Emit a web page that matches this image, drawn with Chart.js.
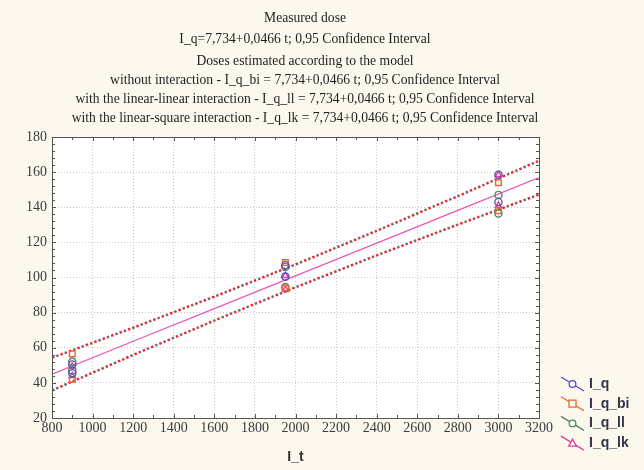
<!DOCTYPE html>
<html>
<head>
<meta charset="utf-8">
<script src="https://cdn.jsdelivr.net/npm/chart.js@4.4.0/dist/chart.umd.min.js"></script>
<style>
  html, body { margin: 0; padding: 0; background: #fcf8ee; }
  #wrap { width: 644px; height: 470px; }
</style>
</head>
<body>
<div id="wrap"><canvas id="doseChart" width="644" height="470"></canvas></div>
<script>
// measured / estimated doses
const tValues = [900, 900, 1950, 1950, 3000, 3000];
const iq = [50.5, 45.5, 107, 100.5, 158.5, 143];
const iqBi = [56.5, 42, 108.5, 94, 154, 138];
const iqLl = [52, 47, 106, 94.5, 147, 136.5];
const iqLk = [49.5, 44, 101, 93, 158.5, 141];

// fitted line and 0,95 confidence band
const bandT = [800, 1200, 1600, 2000, 2400, 2800, 3200];
const fitLine = [45.0, 63.7, 82.3, 100.9, 119.6, 138.2, 156.9];
const upperBand = [54.3, 71.4, 89.1, 107.4, 126.6, 146.3, 166.5];
const lowerBand = [35.7, 55.9, 75.5, 94.4, 112.6, 130.1, 147.2];

const xTicks = [800, 1000, 1200, 1400, 1600, 1800, 2000, 2200, 2400, 2600, 2800, 3000, 3200];
const yTicks = [20, 40, 60, 80, 100, 120, 140, 160, 180];

const titleLines = [
  "Measured dose",
  "I_q=7,734+0,0466 t; 0,95 Confidence Interval",
  "Doses estimated according to the model",
  "without interaction - I_q_bi = 7,734+0,0466 t; 0,95 Confidence Interval",
  "with the linear-linear interaction - I_q_ll = 7,734+0,0466 t; 0,95 Confidence Interval",
  "with the linear-square interaction - I_q_lk = 7,734+0,0466 t; 0,95 Confidence Interval"
];
const titleY = [18, 39, 61, 80, 99, 118];

const seriesNames = ["I_q", "I_q_bi", "I_q_ll", "I_q_lk"];
const seriesColors = ["#5b4fbf", "#f2612a", "#4a8a5e", "#e0409a"];
const seriesMarkers = ["circle", "rect", "circle", "triangle"];
const seriesValues = [iq, iqBi, iqLl, iqLk];

const toPoints = (xs, ys) => xs.map((x, i) => ({ x: x, y: ys[i] }));

const scatterSets = seriesNames.map((name, i) => ({
  label: name,
  data: toPoints(tValues, seriesValues[i]),
  showLine: false,
  pointStyle: seriesMarkers[i],
  pointRadius: seriesMarkers[i] === "rect" ? 4 : 3.6,
  pointBorderColor: seriesColors[i],
  pointBackgroundColor: "rgba(255,255,255,0)",
  pointBorderWidth: 1.4,
  order: 0
}));

const bandLine = (data, color, offset) => ({
  label: "band",
  data: toPoints(bandT, data),
  showLine: true,
  pointRadius: 0,
  borderColor: color,
  borderWidth: 2.5,
  borderDash: [2.5, 6.5],
  borderDashOffset: offset,
  order: 2
});

const lineSets = [
  bandLine(upperBand, "#86665e", 4.5),
  bandLine(upperBand, "#f0283c", 0),
  bandLine(lowerBand, "#86665e", 4.5),
  bandLine(lowerBand, "#f0283c", 0),
  {
    label: "fit",
    data: toPoints(bandT, fitLine),
    showLine: true,
    pointRadius: 0,
    borderColor: "#ee58b4",
    borderWidth: 1.3,
    order: 1
  }
];

const backgroundPlugin = {
  id: "background",
  beforeDraw(chart) {
    const { ctx, chartArea } = chart;
    ctx.save();
    ctx.fillStyle = "#fcf8ee";
    ctx.fillRect(0, 0, chart.width, chart.height);
    ctx.fillStyle = "#ffffff";
    ctx.fillRect(chartArea.left, chartArea.top, chartArea.right - chartArea.left, chartArea.bottom - chartArea.top);
    ctx.restore();
  }
};

const framePlugin = {
  id: "frame",
  afterDraw(chart) {
    const { ctx, chartArea } = chart;
    const xs = chart.scales.x;
    const ys = chart.scales.y;
    ctx.save();

    // titles
    ctx.fillStyle = "#1e1e1e";
    ctx.font = "13.6px 'Liberation Serif'";
    ctx.textAlign = "center";
    ctx.textBaseline = "middle";
    titleLines.forEach((line, i) => ctx.fillText(line, 305, titleY[i]));

    // box + inner minor ticks
    ctx.strokeStyle = "#555";
    ctx.lineWidth = 1;
    ctx.strokeRect(chartArea.left + 0.5, chartArea.top + 0.5, chartArea.right - chartArea.left, chartArea.bottom - chartArea.top);
    ctx.beginPath();
    for (let v = 800; v <= 3200; v += 100) {
      const px = Math.round(xs.getPixelForValue(v)) + 0.5;
      const len = v % 200 === 0 ? 4 : 3;
      ctx.moveTo(px, chartArea.top); ctx.lineTo(px, chartArea.top + len);
      ctx.moveTo(px, chartArea.bottom); ctx.lineTo(px, chartArea.bottom - len);
    }
    for (let v = 20; v <= 180; v += 4) {
      const py = Math.round(ys.getPixelForValue(v)) + 0.5;
      const len = v % 20 === 0 ? 4 : 3;
      ctx.moveTo(chartArea.left, py); ctx.lineTo(chartArea.left + len, py);
      ctx.moveTo(chartArea.right, py); ctx.lineTo(chartArea.right - len, py);
    }
    ctx.stroke();

    // legend
    ctx.font = "bold 14px 'Liberation Sans'";
    ctx.textAlign = "left";
    seriesNames.forEach((name, i) => {
      const yc = 384 + i * 19.7;
      ctx.strokeStyle = seriesColors[i];
      ctx.lineWidth = 1.3;
      ctx.beginPath();
      ctx.moveTo(561, yc - 7);
      ctx.lineTo(584, yc + 7);
      ctx.stroke();
      ctx.fillStyle = "#ffffff";
      ctx.beginPath();
      const mx = 572.5, my = yc;
      if (seriesMarkers[i] === "rect") {
        ctx.rect(mx - 3.5, my - 3.5, 7, 7);
      } else if (seriesMarkers[i] === "triangle") {
        ctx.moveTo(mx, my - 4); ctx.lineTo(mx + 3.8, my + 3); ctx.lineTo(mx - 3.8, my + 3); ctx.closePath();
      } else {
        ctx.arc(mx, my, 3.3, 0, Math.PI * 2);
      }
      ctx.fill();
      ctx.stroke();
      ctx.fillStyle = "#34344a";
      ctx.fillText(name, 589, yc);
    });
    ctx.restore();
  }
};

const ctx = document.getElementById("doseChart").getContext("2d");
new Chart(ctx, {
  type: "scatter",
  data: { datasets: [...lineSets, ...scatterSets] },
  options: {
    responsive: false,
    animation: false,
    layout: { padding: { top: 137, right: 105, left: 0, bottom: 0 } },
    plugins: {
      legend: { display: false },
      title: { display: false },
      tooltip: { enabled: false }
    },
    scales: {
      x: {
        type: "linear",
        min: 800,
        max: 3200,
        afterBuildTicks: (axis) => { axis.ticks = xTicks.map(v => ({ value: v })); },
        afterFit: (axis) => { axis.height = 52; },
        ticks: {
          color: "#3c3c3c",
          font: { family: "Liberation Serif", size: 14 },
          padding: 2,
          maxRotation: 0,
          autoSkip: false,
          callback: (value) => String(value)
        },
        grid: { color: "#c9c9c9", lineWidth: 1, drawTicks: false },
        border: { display: false, dash: [1, 2] },
        title: {
          display: true,
          text: "I_t",
          color: "#333",
          font: { family: "Liberation Sans", size: 14, weight: "bold" },
          padding: { top: 6 }
        }
      },
      y: {
        type: "linear",
        min: 20,
        max: 180,
        afterBuildTicks: (axis) => { axis.ticks = yTicks.map(v => ({ value: v })); },
        afterFit: (axis) => { axis.width = 52; },
        ticks: {
          color: "#3c3c3c",
          font: { family: "Liberation Serif", size: 14 },
          padding: 5,
          callback: (value) => String(value)
        },
        grid: { color: "#c9c9c9", lineWidth: 1, drawTicks: false },
        border: { display: false, dash: [1, 2] }
      }
    }
  },
  plugins: [backgroundPlugin, framePlugin]
});
</script>
</body>
</html>
